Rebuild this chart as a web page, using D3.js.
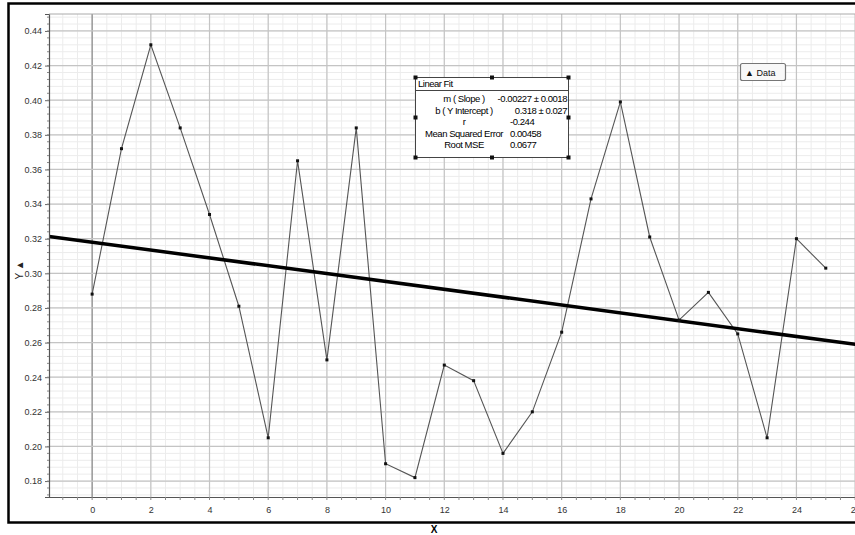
<!DOCTYPE html>
<html><head><meta charset="utf-8">
<script src="https://cdn.jsdelivr.net/npm/d3@7"></script>
<style>body{margin:0;background:#fff;}svg{display:block;font-family:"Liberation Sans",Arial,sans-serif;}</style>
</head><body>
<svg id="c" width="855" height="535"></svg>
<script>
const xValues = [0,1,2,3,4,5,6,7,8,9,10,11,12,13,14,15,16,17,18,19,20,21,22,23,24,25];
const yValues = [0.288,0.372,0.432,0.384,0.334,0.281,0.205,0.365,0.250,0.384,0.190,0.182,0.247,0.238,0.196,0.220,0.266,0.343,0.399,0.321,0.273,0.289,0.265,0.205,0.320,0.303];
const fitSlope = -0.00227, fitIntercept = 0.318;
const xTicks = [0,2,4,6,8,10,12,14,16,18,20,22,24,26];
const yTicks = [0.18,0.20,0.22,0.24,0.26,0.28,0.30,0.32,0.34,0.36,0.38,0.40,0.42,0.44];
const fitLabels = ["m ( Slope )","b ( Y Intercept )","r","Mean Squared Error","Root MSE"];
const fitValues = ["-0.00227 \u00b1 0.0018","0.318 \u00b1  0.027","-0.244","0.00458","0.0677"];
const legendLabel = "Data";

const svg = d3.select("#c");
const L=49, T=14, B=497, R=861;
const x = d3.scaleLinear().domain([-1.47, 26.2]).range([L, R]);
const y = d3.scaleLinear().domain([0.1708, 0.4498]).range([B, T]);

svg.append("defs").append("clipPath").attr("id","clip").append("rect")
  .attr("x",L).attr("y",T).attr("width",R-L).attr("height",B-T);

const g = svg.append("g").attr("clip-path","url(#clip)");
const xMinor = d3.range(-1.5, 26.5, 0.5);
const yMinor = d3.range(0.172, 0.45, 0.004);
g.selectAll(".xm").data(xMinor).join("line").attr("x1",d=>x(d)).attr("x2",d=>x(d)).attr("y1",T).attr("y2",B).attr("stroke","#ececec").attr("stroke-width",1);
g.selectAll(".ym").data(yMinor).join("line").attr("y1",d=>y(d)).attr("y2",d=>y(d)).attr("x1",L).attr("x2",R).attr("stroke","#ececec").attr("stroke-width",1);
g.selectAll(".xg").data(xTicks).join("line").attr("x1",d=>x(d)).attr("x2",d=>x(d)).attr("y1",T).attr("y2",B).attr("stroke",d=>d===0?"#8a8a8a":"#c4c4c4").attr("stroke-width",d=>d===0?1.3:1.2);
g.selectAll(".yg").data(yTicks).join("line").attr("y1",d=>y(d)).attr("y2",d=>y(d)).attr("x1",L).attr("x2",R).attr("stroke","#c4c4c4").attr("stroke-width",1.2);

const pts = xValues.map((d,i)=>[d,yValues[i]]);
g.append("path").datum(pts).attr("fill","none").attr("stroke","#555").attr("stroke-width",1.1)
  .attr("d", d3.line().x(d=>x(d[0])).y(d=>y(d[1])));
const xd = x.domain();
g.append("line").attr("x1",x(xd[0])).attr("y1",y(fitIntercept+fitSlope*xd[0]))
  .attr("x2",x(xd[1])).attr("y2",y(fitIntercept+fitSlope*xd[1]))
  .attr("stroke","#000").attr("stroke-width",3.5);
g.selectAll(".pt").data(pts).join("rect").attr("x",d=>x(d[0])-1.5).attr("y",d=>y(d[1])-1.5).attr("width",3).attr("height",3).attr("fill","#111");

const yAxis = svg.append("g").attr("transform",`translate(${L},0)`)
  .call(d3.axisLeft(y).tickValues(yTicks).tickFormat(d3.format(".2f")).tickSize(4).tickPadding(3));
const xAxis = svg.append("g").attr("transform",`translate(0,${B})`)
  .call(d3.axisBottom(x).tickValues(xTicks).tickFormat(d3.format("d")).tickSize(0).tickPadding(10));
[yAxis,xAxis].forEach(a=>{a.select(".domain").attr("stroke","#555").attr("stroke-width",1.2);
  a.selectAll("text").attr("font-size",9).attr("fill","#333").attr("font-family","Liberation Sans, Arial, sans-serif");
  a.selectAll(".tick line").attr("stroke","#666");});
svg.append("g").selectAll("line").data(yMinor).join("line").attr("x1",L-2).attr("x2",L).attr("y1",d=>y(d)).attr("y2",d=>y(d)).attr("stroke","#888");
svg.append("g").selectAll("line").data(xMinor.filter(d=>x(d)>=L)).join("line").attr("y1",B).attr("y2",B+3).attr("x1",d=>x(d)).attr("x2",d=>x(d)).attr("stroke","#888");
svg.append("line").attr("x1",L).attr("x2",855).attr("y1",T).attr("y2",T).attr("stroke","#aaa");

svg.append("rect").attr("x",8.5).attr("y",3.5).attr("width",860).attr("height",519).attr("fill","none").attr("stroke","#000").attr("stroke-width",2.5);

svg.append("text").attr("x",434).attr("y",533).attr("text-anchor","middle").attr("font-size",10).attr("font-weight","bold").text("X");
svg.append("text").attr("transform","translate(23,270) rotate(-90)").attr("text-anchor","middle").attr("font-size",10).attr("fill","#222").text("Y \u25B2");

const bx=415, by=77, bw=153, bh=80;
const box = svg.append("g");
box.append("rect").attr("x",bx+0.5).attr("y",by+0.5).attr("width",bw).attr("height",bh).attr("fill","#fff").attr("stroke","#444");
box.append("line").attr("x1",bx).attr("x2",bx+bw).attr("y1",by+13.5).attr("y2",by+13.5).attr("stroke","#444");
box.append("text").attr("x",bx+3).attr("y",by+10).attr("font-size",9.5).attr("letter-spacing",-0.5).text("Linear Fit");
fitLabels.forEach((t,i)=>{
  const ty = by+25+i*11.5;
  box.append("text").attr("x",bx+49).attr("y",ty).attr("text-anchor","middle").attr("font-size",9.5).attr("letter-spacing",-0.45).text(t);
  box.append("text").attr("x", i<2 ? bx+152 : bx+95).attr("y",ty).attr("text-anchor", i<2?"end":"start").attr("font-size",9.5).attr("letter-spacing",-0.45).text(fitValues[i]);
});
const handles=[[0,0],[0.5,0],[1,0],[0,0.5],[1,0.5],[0,1],[0.5,1],[1,1]];
box.selectAll(".h").data(handles).join("rect").attr("x",d=>bx+d[0]*bw-1.5).attr("y",d=>by+d[1]*bh-1.5).attr("width",4).attr("height",4).attr("fill","#111");

const lg = svg.append("g");
lg.append("rect").attr("x",740.5).attr("y",63.5).attr("width",45).attr("height",17).attr("rx",2).attr("fill","#f8f8f8").attr("stroke","#777").attr("stroke-width",1.2);
lg.append("text").attr("x",745).attr("y",75.5).attr("font-size",9).attr("fill","#111").text("\u25B2 "+legendLabel);
</script>
</body></html>
